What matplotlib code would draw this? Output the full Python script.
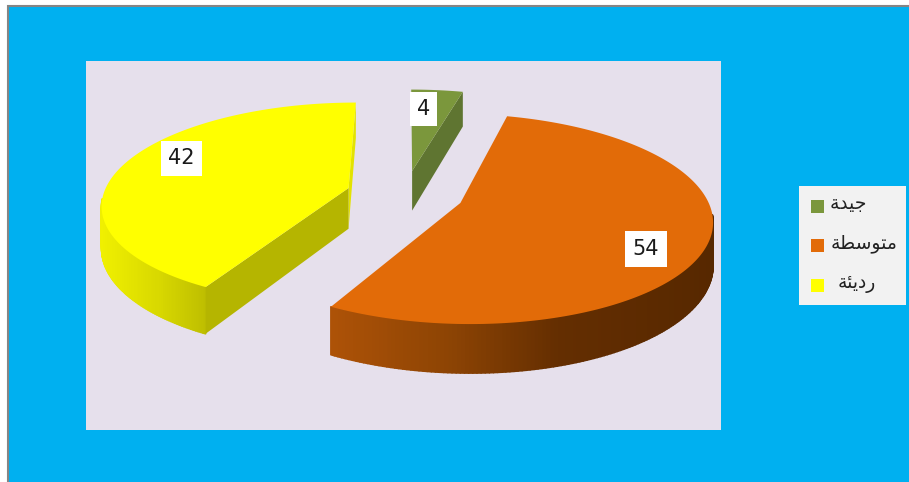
### Module import ###
import numpy as np
import matplotlib
matplotlib.use('Agg')
import matplotlib.pyplot as plt
from matplotlib.collections import PolyCollection
from matplotlib.patches import Polygon, Rectangle

### Data ###
# arabic written as presentation forms in visual order, matplotlib does no shaping
categories = ['\uFE94\uFEAA\uFEF4\uFE9F',
              '\uFE94\uFEC4\uFEB3\uFEEE\uFE98\uFEE3',
              '\uFE94\uFE8C\uFEF3\uFEA9\uFEAD']
values = [4, 54, 42]

top_colors = ['#7b973c', '#e26b08', '#ffff00']
cut_colors = ['#5f7531', '#8a4204', '#b5b500']
wall_stops = [None,
              [(335, '#ad5207'), (450, '#8d4404'), (560, '#642e01'), (712, '#572800')],
              [(101, '#f0f000'), (160, '#d8d800'), (210, '#bcbc00')]]
label_boxes = [(410, 92, 27, 34), (625, 231, 42, 36), (161, 141, 41, 35)]

### Projection of the exploded pie ###
cx, cy = 405, 194
ax_x, ax_y = 245, 100
persp = 0.15
explode = 0.24
depth = 41

def project(X, Y, z=0):
    d = 1 + persp * Y
    return cx + ax_x * X / d, cy + (z - ax_y * Y) / d

def rim(t, mid, z=0):
    X = explode * np.sin(mid) + np.sin(t)
    Y = explode * np.cos(mid) + np.cos(t)
    return project(X, Y, z)

def apex(mid, z=0):
    return project(explode * np.sin(mid), explode * np.cos(mid), z)

def hex_rgb(c):
    return np.array(matplotlib.colors.to_rgb(c))

### Figure ###
fig = plt.figure(figsize=(9.09, 4.82), dpi=100, facecolor='white')
ax = fig.add_axes([0, 0, 1, 1])
ax.set_xlim(0, 909)
ax.set_ylim(482, 0)
ax.axis('off')

ax.add_patch(Rectangle((8, 6), 903, 480, fc='#00b0f0', ec='#858585', lw=1.5))
ax.add_patch(Rectangle((86, 61), 635, 369, fc='#e6e0ec', ec='none'))

edges = np.radians(np.cumsum([0] + values) / sum(values) * 360)

for i in range(len(values)):
    t0, t1 = edges[i], edges[i + 1]
    mid = (t0 + t1) / 2
    t = np.linspace(t0, t1, 240)

    # curved outer wall, only the part turned towards the viewer
    if wall_stops[i] is not None:
        front = t[np.cos(t) < -0.1]
        xs, ys = rim(front, mid)
        xb, yb = rim(front, mid, depth)
        quads = [[(xs[k], ys[k]), (xs[k + 1], ys[k + 1]), (xb[k + 1], yb[k + 1]), (xb[k], yb[k])]
                 for k in range(len(front) - 1)]
        px = [s[0] for s in wall_stops[i]]
        rgb = np.array([hex_rgb(s[1]) for s in wall_stops[i]])
        colors = [[np.interp(xs[k], px, rgb[:, c]) for c in range(3)] for k in range(len(front) - 1)]
        ax.add_collection(PolyCollection(quads, facecolors=colors, edgecolors=colors, linewidths=1.2))

    # flat cut faces
    if i == 2:
        # face at the end of the last slice, nearly edge on
        ends = [rim(t1, mid), rim(t1, mid, depth), apex(mid, depth), apex(mid)]
        ax.add_patch(Polygon(ends, fc='#e3e300', ec='none'))
    if i != 1:
        t_cut = t1 if i == 0 else t0
        cut = [apex(mid), rim(t_cut, mid), rim(t_cut, mid, depth), apex(mid, depth)]
        ax.add_patch(Polygon(cut, fc=cut_colors[i], ec='none'))

    # top surface
    xs, ys = rim(t, mid)
    ax_pt = apex(mid)
    top = np.column_stack([np.r_[ax_pt[0], xs], np.r_[ax_pt[1], ys]])
    ax.add_patch(Polygon(top, fc=top_colors[i], ec='none'))

### Value labels ###
for val, (x, y, w, h) in zip(values, label_boxes):
    ax.add_patch(Rectangle((x, y), w, h, fc='white', ec='none'))
    ax.text(x + w / 2, y + h / 2, str(val), ha='center', va='center', fontsize=15, color='#1a1a1a')

### Legend ###
ax.add_patch(Rectangle((799, 186), 107, 119, fc='#f2f2f2', ec='none'))
for i, name in enumerate(categories):
    y = 206 + i * 39.75
    ax.add_patch(Rectangle((811, y - 6.5), 13, 13, fc=top_colors[i], ec='none'))
    ax.text(897 if i == 1 else 867 if i == 0 else 876, y - 2, name, ha='right', va='center',
            fontsize=13.5, color='#222222', family='DejaVu Sans')

### image output ###
fig.savefig('out.png', dpi=100)
